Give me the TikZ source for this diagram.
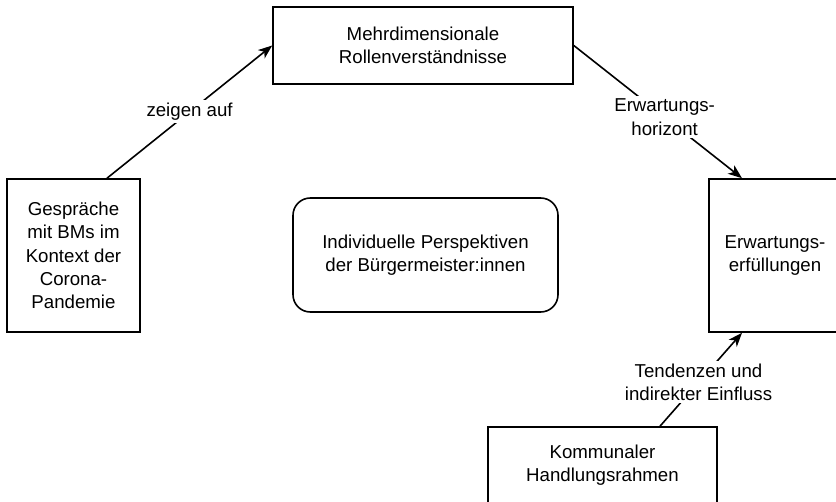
\documentclass[tikz,border=0pt]{standalone}
\usepackage{fontspec}
\setmainfont{Liberation Sans}
\usepackage{tikz}
\usetikzlibrary{arrows.meta}

\begin{document}
\begin{tikzpicture}[x=0.75pt, y=-0.75pt,
    every node/.style={font=\fontsize{14}{17.5}\selectfont, align=center},
    box/.style={draw, line width=1.2pt, inner sep=0pt},
    roundbox/.style={box, rounded corners=13pt},
    link/.style={line width=1.2pt, -{Stealth[length=10.5pt, width=8pt, inset=3pt]}},
    linklabel/.style={fill=white, inner sep=2pt}]
        \useasboundingbox (0,0) rectangle (836,502);

        % Boxes
        \node[box, minimum width=300*0.75pt, minimum height=77*0.75pt] (rollen) at (423,45.5)
            {Mehrdimensionale\\Rollenverständnisse};
        \node[box, minimum width=133*0.75pt, minimum height=153*0.75pt] (gespraeche) at (73.5,255.5)
            {Gespräche\\mit BMs im\\Kontext der\\Corona-\\Pandemie};
        \node[box, minimum width=132*0.75pt, minimum height=153*0.75pt] (erfuellung) at (775,255.5)
            {Erwartungs-\\erfüllungen};
        \node[roundbox, minimum width=265*0.75pt, minimum height=114*0.75pt] (perspektiven) at (425.5,255)
            {Individuelle Perspektiven\\der Bürgermeister:innen};
        \node[box, minimum width=229*0.75pt, minimum height=76*0.75pt] (rahmen) at (602.5,465)
            {Kommunaler\\Handlungsrahmen};

        % Connectors
        \draw[link] ([xshift=33.5*0.75pt]gespraeche.north) -- (rollen.west)
            node[linklabel, pos=0.5] {zeigen auf};
        \draw[link] (rollen.east) -- ([xshift=-33*0.75pt]erfuellung.north)
            node[linklabel, pos=0.54] {Erwartungs-\\horizont};
        \draw[link] ([xshift=57.5*0.75pt]rahmen.north) -- ([xshift=-33*0.75pt]erfuellung.south)
            node[linklabel, pos=0.47] {Tendenzen und\\indirekter Einfluss};
    \end{tikzpicture}
\end{document}
